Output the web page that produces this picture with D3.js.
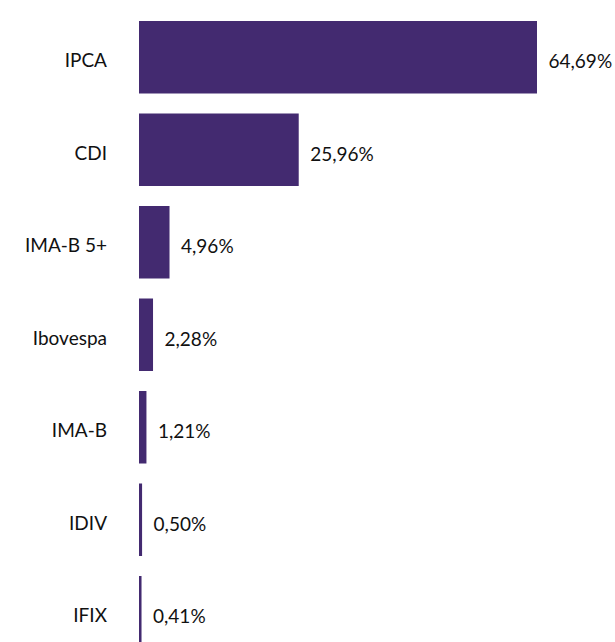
<!DOCTYPE html>
<html>
<head>
<meta charset="utf-8">
<script src="https://cdn.jsdelivr.net/npm/d3@7"></script>
<style>
  body { margin: 0; background: #fff; }
  text { font-family: Lato, sans-serif; fill: #111; }
</style>
</head>
<body>
<div id="chart"></div>
<script>
var categories = ["IPCA", "CDI", "IMA-B 5+", "Ibovespa", "IMA-B", "IDIV", "IFIX"];
var values = [64.69, 25.96, 4.96, 2.28, 1.21, 0.50, 0.41];

var data = categories.map(function(c, i) { return { name: c, value: values[i] }; });

// set the dimensions and margins of the graph
var margin = { top: 21, right: 0, bottom: 0, left: 139 };

var svg = d3.select("#chart")
  .append("svg")
  .attr("width", 615)
  .attr("height", 642)
  .append("g")
  .attr("transform", "translate(" + margin.left + "," + margin.top + ")");

var x = d3.scaleLinear()
  .domain([0, 64.69])
  .range([0, 398]);

// ~92.5px per row, ~72.5px bars
var y = d3.scaleBand()
  .domain(categories)
  .range([0, 92.5 * categories.length - 20])
  .paddingInner(20 / 92.5)
  .paddingOuter(0);

// Y axis labels
svg.append("g")
  .call(d3.axisLeft(y).tickSize(0).tickPadding(32))
  .call(function(g) { g.select(".domain").remove(); })
  .selectAll("text")
  .attr("y", 3)
  .attr("dy", "0.36em")
  .style("font-size", "19px")
  .style("font-family", "Lato, sans-serif")
  .attr("fill", "#111");

//Bars
svg.selectAll(".bar")
  .data(data)
  .enter()
  .append("rect")
  .attr("class", "bar")
  .attr("x", 0)
  .attr("y", function(d) { return y(d.name); })
  .attr("width", function(d) { return x(d.value); })
  .attr("height", y.bandwidth())
  .attr("fill", "#432a70");

//Bar Label
svg.selectAll(".label")
  .data(data)
  .enter()
  .append("text")
  .attr("class", "label")
  .attr("x", function(d) { return x(d.value) + 11.5; })
  .attr("y", function(d) { return y(d.name) + y.bandwidth() / 2 + 4; })
  .attr("dy", "0.36em")
  .style("font-size", "19px")
  .text(function(d) { return d3.format(".2f")(d.value).replace(".", ",") + "%"; });
</script>
</body>
</html>
